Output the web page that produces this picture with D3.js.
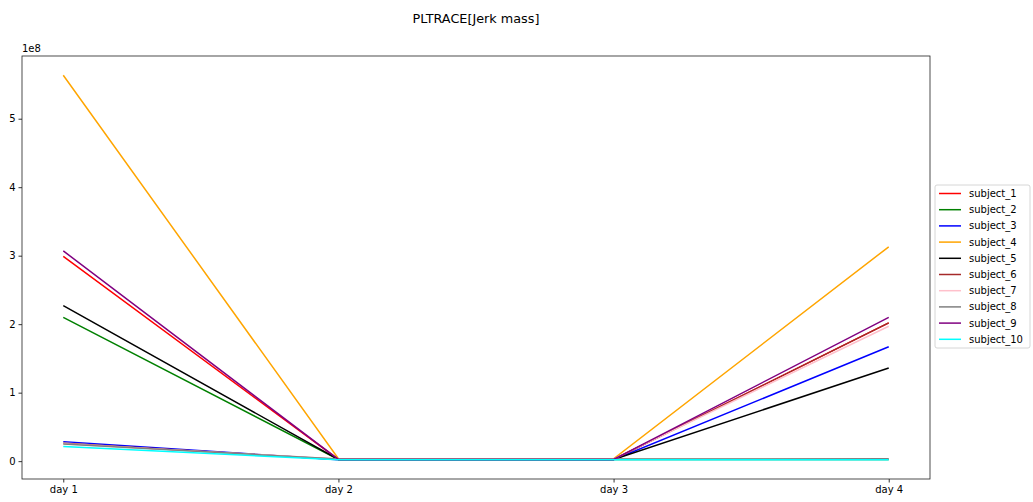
<!DOCTYPE html>
<html>
<head>
<meta charset="utf-8">
<script src="https://cdn.jsdelivr.net/npm/d3@7"></script>
<style>
  body { margin: 0; background: #fff; }
  text { font-family: "DejaVu Sans", sans-serif; fill: #000; }
</style>
</head>
<body>
<div id="chart"></div>
<script>
// Data (values in units of 1e8)
const days = ['day 1', 'day 2', 'day 3', 'day 4'];
const subjects = ['subject_1', 'subject_2', 'subject_3', 'subject_4', 'subject_5',
  'subject_6', 'subject_7', 'subject_8', 'subject_9', 'subject_10'];
const colors = ['red', 'green', 'blue', 'orange', 'black',
  'brown', 'pink', 'gray', 'purple', 'cyan'];
const s1 = [2.99, 0.025, 0.025, 2.02];
const s2 = [2.10, 0.025, 0.025, 0.025];
const s3 = [0.285, 0.02, 0.02, 1.67];
const s4 = [5.635, 0.035, 0.035, 3.13];
const s5 = [2.27, 0.025, 0.025, 1.36];
const s6 = [0.26, 0.025, 0.025, 2.02];
const s7 = [0.255, 0.03, 0.03, 1.97];
const s8 = [0.25, 0.03, 0.03, 0.035];
const s9 = [3.07, 0.025, 0.025, 2.10];
const s10 = [0.215, 0.02, 0.02, 0.02];
const series = [s1, s2, s3, s4, s5, s6, s7, s8, s9, s10];
const yTicks = [0, 1, 2, 3, 4, 5];

// Dimensions
const W = 1033, H = 502;
const margin = { left: 22, right: 103, top: 56, bottom: 23 };
const width = W - margin.left - margin.right;
const height = H - margin.top - margin.bottom;

// Scales
const x = d3.scalePoint()
  .domain(days)
  .range([0, width])
  .padding(0.15);
const allVals = series.flat();
const lo = d3.min(allVals), hi = d3.max(allVals);
const pad = (hi - lo) * 0.05;
const y = d3.scaleLinear()
  .domain([lo - pad, hi + pad])
  .range([height, 0]);

// SVG
const svg = d3.select('#chart')
  .append('svg')
  .attr('width', W)
  .attr('height', H);
const g = svg.append('g')
  .attr('transform', `translate(${margin.left},${margin.top})`);

// Lines
const line = d3.line()
  .x((d, i) => x(days[i]))
  .y(d => y(d));
series.forEach((s, i) => {
  g.append('path')
    .datum(s)
    .attr('fill', 'none')
    .attr('stroke', colors[i])
    .attr('stroke-width', 1.5)
    .attr('d', line);
});

// Axes
const xAxis = g.append('g')
  .attr('transform', `translate(0,${height})`)
  .call(d3.axisBottom(x).tickSize(3.5).tickPadding(3));
const yAxis = g.append('g')
  .call(d3.axisLeft(y).tickValues(yTicks).tickFormat(d3.format('d')).tickSize(3.5).tickPadding(3));
[xAxis, yAxis].forEach(a => {
  a.select('.domain').remove();
  a.selectAll('text').style('font-size', '10px').style('font-family', '"DejaVu Sans", sans-serif').attr('fill', '#000');
  a.selectAll('line').attr('stroke', '#000').attr('stroke-width', 0.8);
});

// Frame
g.append('rect')
  .attr('width', width)
  .attr('height', height)
  .attr('fill', 'none')
  .attr('stroke', '#222')
  .attr('stroke-width', 0.8);

// Offset text
g.append('text')
  .attr('x', 0)
  .attr('y', -4)
  .style('font-size', '10px')
  .text('1e8');

// Title
svg.append('text')
  .attr('x', margin.left + width / 2)
  .attr('y', 23)
  .attr('text-anchor', 'middle')
  .style('font-size', '12.8px')
  .text('PLTRACE[Jerk mass]');

// Legend
const lg = svg.append('g')
  .attr('transform', 'translate(935,185)');
lg.append('rect')
  .attr('width', 95)
  .attr('height', 163)
  .attr('rx', 2)
  .attr('fill', '#fff')
  .attr('stroke', '#ccc')
  .attr('stroke-width', 0.8);
subjects.forEach((name, i) => {
  const yy = 8.5 + i * 16.2;
  lg.append('line')
    .attr('x1', 4).attr('x2', 26)
    .attr('y1', yy).attr('y2', yy)
    .attr('stroke', colors[i])
    .attr('stroke-width', 1.5);
  lg.append('text')
    .attr('x', 34)
    .attr('y', yy + 3.5)
    .style('font-size', '10px')
    .text(name);
});
</script>
</body>
</html>
